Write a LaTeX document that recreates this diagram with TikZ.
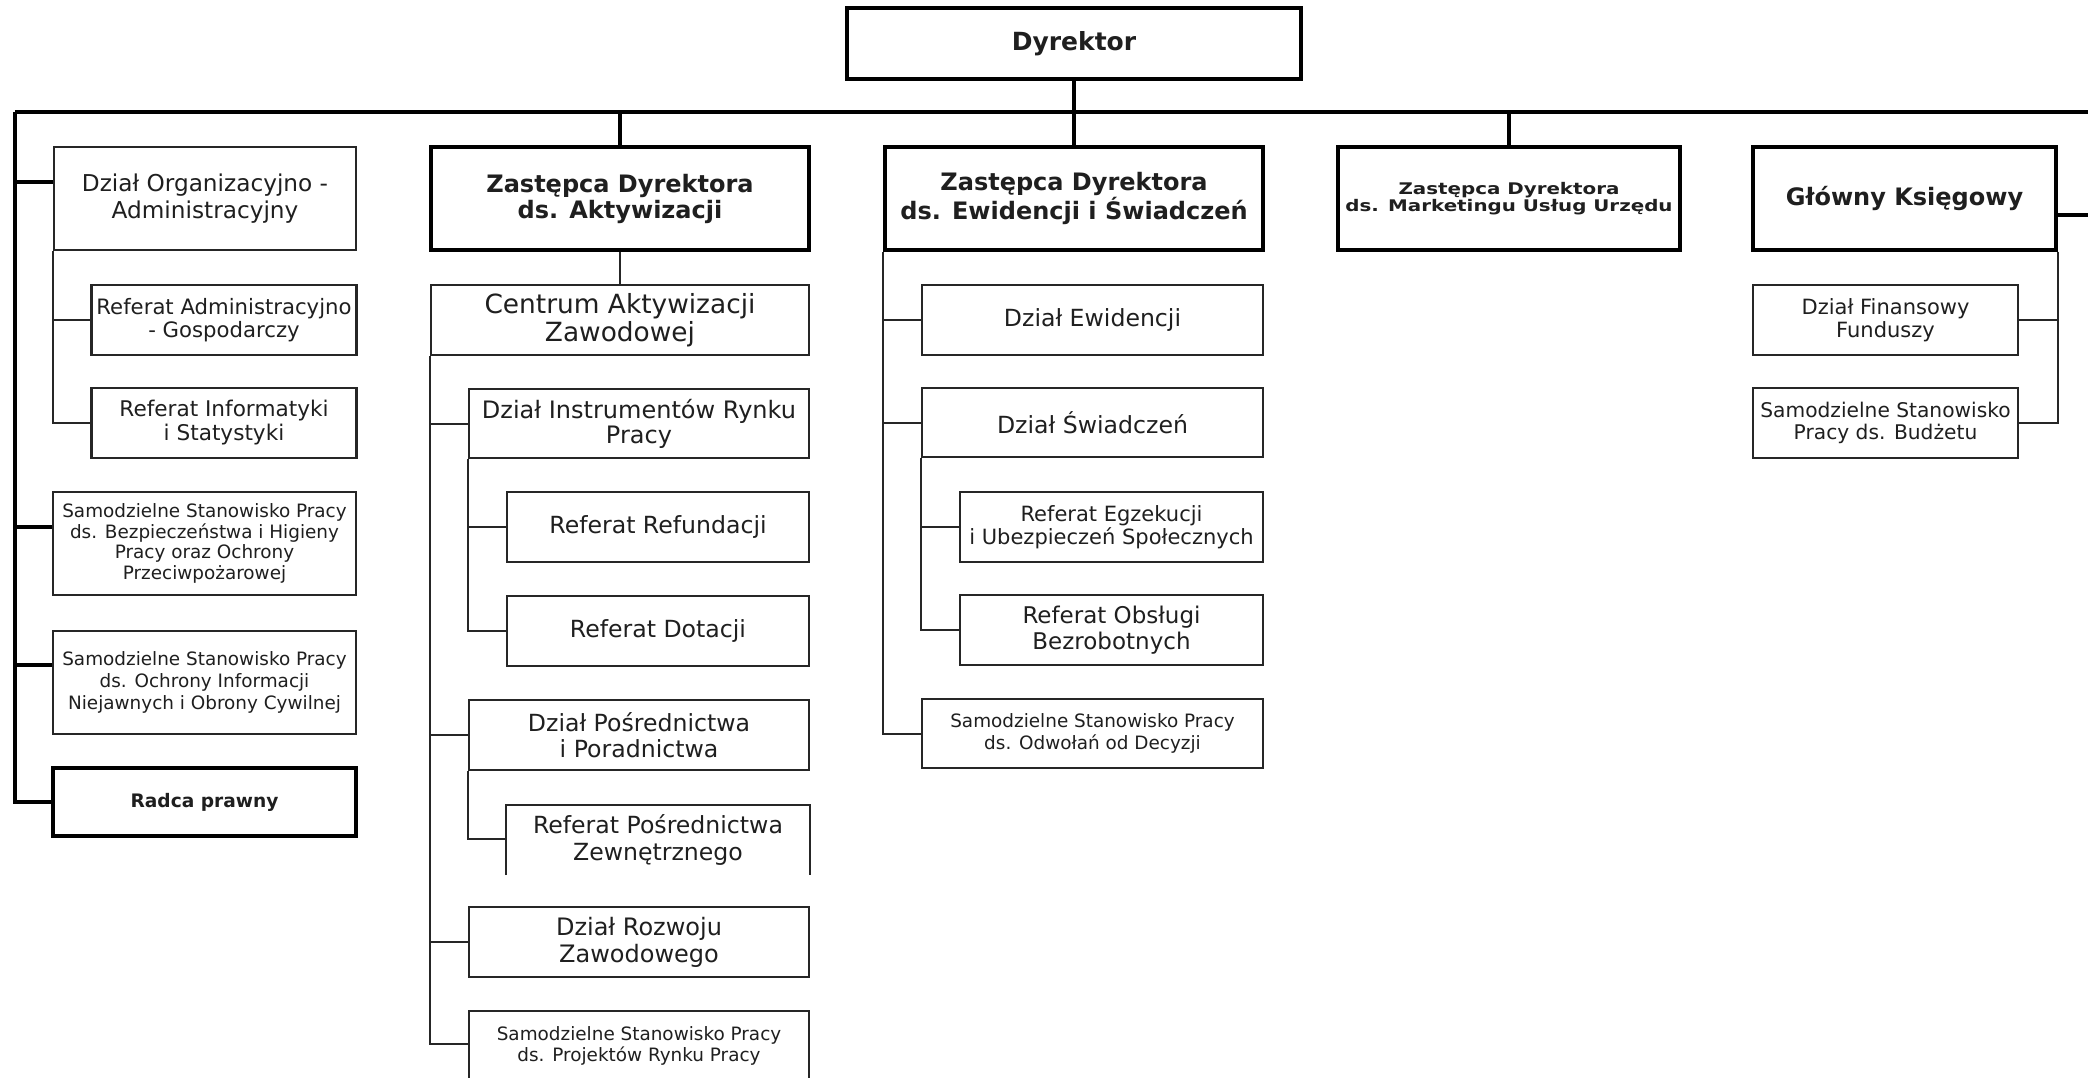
\documentclass[tikz,border=0pt]{standalone}
\usepackage{fontspec}
\setmainfont{DejaVu Sans}
\newfontfamily\widefont[FakeStretch=1.24]{DejaVu Sans}
\newcommand\myfs[2]{\fontsize{#1}{#2}\selectfont}
\begin{document}
\begin{tikzpicture}[x=0.5pt,y=-0.5pt,
  box/.style={draw=black!85, line width=1.2pt, rectangle, inner sep=0pt, align=center, text=black!88},
  openbox/.style={box, draw=none},
  topbox/.style={box, draw=black, line width=1.8pt},
  sz/.style 2 args={minimum width=#1*0.5pt, minimum height=#2*0.5pt},
  bus/.style={draw=black, line width=1.8pt},
  wire/.style={draw=black!85, line width=1pt},
  edge/.style={draw=black!85, line width=1.2pt}]
\useasboundingbox (0,0) rectangle (2088,1077);
\fill[white] (0,0) rectangle (2088,1077);

% top level
\node[topbox, sz={454}{71}, font=\myfs{12.5}{14}\bfseries] (dyr) at (1074,43.5) {Dyrektor};
\node[topbox, sz={378}{103}, font=\myfs{12}{13}\bfseries] (zakt) at (620,198.5) {Zastępca Dyrektora\\ds. Aktywizacji};
\node[topbox, sz={378}{103}, font=\myfs{12}{13}\bfseries] (zewid) at (1074,198.5) {Zastępca Dyrektora\\ds. Ewidencji i Świadczeń};
\node[topbox, sz={342}{103}, font=\widefont\myfs{8}{8.5}\bfseries] (zmark) at (1509,198.5) {Zastępca Dyrektora\\ds. Marketingu Usług Urzędu};
\node[topbox, sz={303}{103}, font=\myfs{12}{13}\bfseries] (gk) at (1904.5,198.5) {Główny Księgowy};

% column 1
\node[box, sz={302}{103}, font=\myfs{11.6}{13.3}] (org) at (205,198.5) {Dział Organizacyjno -\\Administracyjny};
\node[box, sz={265}{70}, font=\myfs{10.6}{11.7}] (radm) at (224,320) {Referat Administracyjno\\- Gospodarczy};
\node[box, sz={265}{70}, font=\myfs{10.8}{12}] (rinfo) at (224,423) {Referat Informatyki\\i Statystyki};
\node[box, sz={303}{103}, font=\myfs{9.2}{10.4}] (bhp) at (204.5,543.5) {Samodzielne Stanowisko Pracy\\ds. Bezpieczeństwa i Higieny\\Pracy oraz Ochrony\\Przeciwpożarowej};
\node[box, sz={303}{103}, font=\myfs{9.2}{10.8}] (ochr) at (204.5,682.5) {Samodzielne Stanowisko Pracy\\ds. Ochrony Informacji\\Niejawnych i Obrony Cywilnej};
\node[topbox, sz={303}{68}, font=\myfs{9.3}{11}\bfseries] (radca) at (204.5,802) {Radca prawny};

% column 2
\node[box, sz={378}{70}, font=\myfs{13.2}{14}] (cent) at (620,320) {Centrum Aktywizacji\\Zawodowej};
\node[box, sz={340}{69}, font=\myfs{12}{12.6}] (instr) at (639,423.5) {Dział Instrumentów Rynku\\Pracy};
\node[box, sz={302}{70}, font=\myfs{11.8}{13}] (refund) at (658,527) {Referat Refundacji};
\node[box, sz={302}{70}, font=\myfs{11.8}{13}] (dot) at (658,631) {Referat Dotacji};
\node[box, sz={340}{70}, font=\myfs{11.8}{13}] (posr) at (639,735) {Dział Pośrednictwa\\i Poradnictwa};
\node[openbox, sz={302}{68}, font=\myfs{11.8}{13.8}] (zewn) at (658,840) {Referat Pośrednictwa\\Zewnętrznego};
\node[box, sz={340}{70}, font=\myfs{12}{13.5}] (rozw) at (639,942) {Dział Rozwoju\\Zawodowego};
\node[box, sz={340}{70}, font=\myfs{9.2}{10.8}] (proj) at (639,1046) {Samodzielne Stanowisko Pracy\\ds. Projektów Rynku Pracy};
\draw[edge] (zewn.south west) -- (zewn.north west) -- (zewn.north east) -- (zewn.south east);

% column 3
\node[box, sz={341}{70}, font=\myfs{11.8}{13}] (dewid) at (1092.5,320) {Dział Ewidencji};
\node[box, sz={341}{69}, font=\myfs{11.8}{13}] (swiad) at (1092.5,422.5) {Dział Świadczeń};
\node[box, sz={303}{70}, font=\myfs{10.5}{11.7}] (egz) at (1111.5,527) {Referat Egzekucji\\i Ubezpieczeń Społecznych};
\node[box, sz={303}{70}, font=\myfs{11.5}{12.8}] (obsl) at (1111.5,630) {Referat Obsługi\\Bezrobotnych};
\node[box, sz={341}{69}, font=\myfs{9.2}{11.3}] (odw) at (1092.5,733.5) {Samodzielne Stanowisko Pracy\\ds. Odwołań od Decyzji};

% column 5
\node[box, sz={265}{70}, font=\myfs{10.5}{11.7}] (fin) at (1885.5,320) {Dział Finansowy\\Funduszy};
\node[box, sz={265}{70}, font=\myfs{10.1}{10.8}] (budz) at (1885.5,423) {Samodzielne Stanowisko\\Pracy ds. Budżetu};

% bus
\coordinate (busL) at (15,112);
\coordinate (busR) at (2100,112);
\draw[bus] (busL) -- (busR);
\draw[bus] (dyr.south) -- (dyr.south |- busL);
\draw[bus] (busL -| zakt.north) -- (zakt.north);
\draw[bus] (busL -| zewid.north) -- (zewid.north);
\draw[bus] (busL -| zmark.north) -- (zmark.north);
\draw[bus] (busR) |- ([yshift=-8.25pt]gk.east);

% left trunk
\draw[bus] (busL) |- ([yshift=8.25pt]org.west);
\draw[bus] (busL) |- ([yshift=8.25pt]bhp.west);
\draw[bus] (busL) |- ([yshift=8.75pt]ochr.west);
\draw[bus] (busL) |- (radca.west);
\draw[wire] (org.south west) |- (radm.west);
\draw[wire] (org.south west) |- (rinfo.west);

% column 2 wires
\draw[wire] (zakt.south) -- (cent.north);
\draw[wire] (cent.south west) |- (instr.west);
\draw[wire] (cent.south west) |- (posr.west);
\draw[wire] (cent.south west) |- (rozw.west);
\draw[wire] (cent.south west) |- ([yshift=1pt]proj.west);
\draw[wire] (instr.south west) |- (refund.west);
\draw[wire] (instr.south west) |- (dot.west);
\draw[wire] (posr.south west) |- ([yshift=0.75pt]zewn.west);

% column 3 wires
\draw[wire] (zewid.south west) |- (dewid.west);
\draw[wire] (zewid.south west) |- (swiad.west);
\draw[wire] (zewid.south west) |- (odw.west);
\draw[wire] (swiad.south west) |- (egz.west);
\draw[wire] (swiad.south west) |- (obsl.west);

% column 5 wires
\draw[wire] (gk.south east) |- (fin.east);
\draw[wire] (gk.south east) |- (budz.east);
\end{tikzpicture}
\end{document}
